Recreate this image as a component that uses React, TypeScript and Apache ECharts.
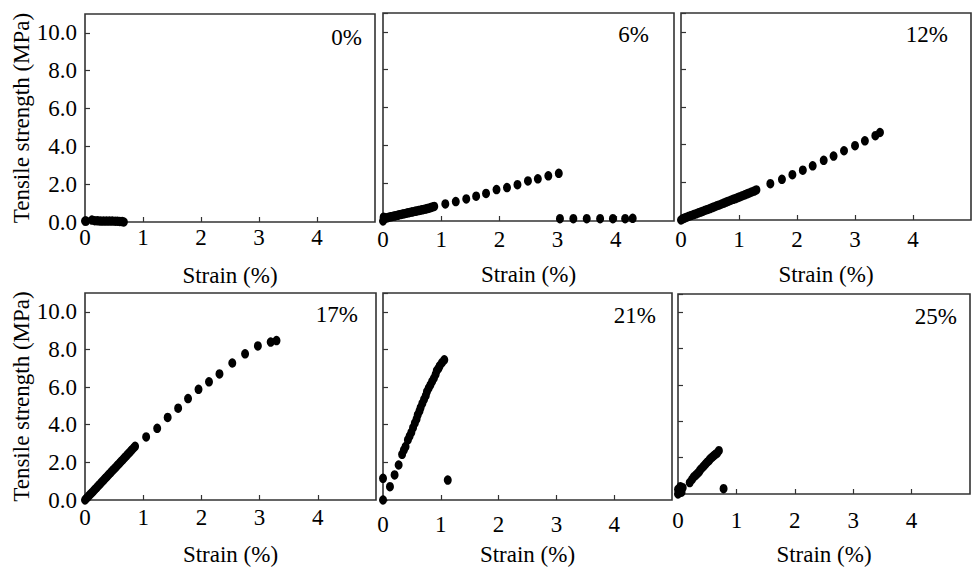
import React, { useEffect, useRef } from "react";
import * as echarts from "echarts";

const panelLabels = ["0%", "6%", "12%", "17%", "21%", "25%"];
const xTickValues = [0, 1, 2, 3, 4];
const yTickValues = [0, 2, 4, 6, 8, 10];
const xAxisTitle = "Strain (%)";
const yAxisTitle = "Tensile strength (MPa)";

// 0%
const strain0 = [0, 0.02, 0.12, 0.17, 0.22, 0.27, 0.32, 0.37, 0.42, 0.47, 0.52, 0.56, 0.6, 0.64, 0.67];
const stress0 = [0.05, 0.05, 0.1, 0.07, 0.06, 0.05, 0.05, 0.05, 0.05, 0.05, 0.04, 0.04, 0.03, 0.02, 0.0];

// 6%
const strain6 = [
  0, 0.01, 0.02, 0.04, 0.07, 0.1, 0.13, 0.16, 0.19, 0.22, 0.25, 0.28, 0.31, 0.34, 0.37, 0.4, 0.43, 0.46,
  0.49, 0.52, 0.55, 0.58, 0.61, 0.64, 0.67, 0.7, 0.73, 0.76, 0.79, 0.82, 0.85, 0.88,
  1.07, 1.25, 1.43, 1.6, 1.77, 1.95, 2.13, 2.31, 2.49, 2.66, 2.84, 3.02,
  3.04, 3.27, 3.5, 3.73, 3.95, 4.16, 4.29,
];
const stress6 = [
  0.0, 0.2, 0.12, 0.15, 0.17, 0.2, 0.22, 0.24, 0.26, 0.28, 0.3, 0.33, 0.35, 0.37, 0.39, 0.41, 0.43, 0.45,
  0.47, 0.49, 0.51, 0.53, 0.55, 0.57, 0.59, 0.61, 0.63, 0.66, 0.68, 0.71, 0.74, 0.77,
  0.9, 1.03, 1.17, 1.31, 1.46, 1.66, 1.77, 1.92, 2.12, 2.23, 2.39, 2.52,
  0.12, 0.12, 0.12, 0.12, 0.12, 0.12, 0.14,
];

// 12%
const strain12 = [
  0, 0.03, 0.06, 0.1, 0.14, 0.18, 0.22, 0.26, 0.3, 0.34, 0.38, 0.42, 0.46, 0.5, 0.54, 0.58, 0.62, 0.66,
  0.7, 0.74, 0.78, 0.82, 0.86, 0.9, 0.94, 0.98, 1.02, 1.06, 1.1, 1.14, 1.18, 1.22, 1.26, 1.3,
  1.54, 1.74, 1.92, 2.1, 2.27, 2.46, 2.63, 2.81, 3.0, 3.17, 3.35, 3.43,
];
const stress12 = [
  0, 0.06, 0.1, 0.15, 0.2, 0.24, 0.29, 0.33, 0.38, 0.42, 0.47, 0.52, 0.56, 0.61, 0.66, 0.71, 0.76, 0.8,
  0.85, 0.9, 0.95, 1.0, 1.05, 1.1, 1.14, 1.19, 1.24, 1.29, 1.34, 1.39, 1.44, 1.49, 1.54, 1.6,
  1.93, 2.16, 2.41, 2.65, 2.88, 3.17, 3.4, 3.68, 3.95, 4.21, 4.48, 4.65,
];

// 17%
const strain17 = [
  0, 0.02, 0.05, 0.08, 0.11, 0.14, 0.17, 0.2, 0.23, 0.26, 0.29, 0.32, 0.35, 0.38, 0.41, 0.44, 0.47, 0.5,
  0.53, 0.56, 0.59, 0.62, 0.65, 0.68, 0.71, 0.74, 0.77, 0.8, 0.83, 0.86,
  1.05, 1.24, 1.42, 1.6, 1.77, 1.95, 2.13, 2.31, 2.53, 2.75, 2.97, 3.19, 3.29,
];
const stress17 = [
  0, 0.08, 0.17, 0.27, 0.36, 0.46, 0.56, 0.66, 0.76, 0.86, 0.96, 1.06, 1.16, 1.26, 1.36, 1.46, 1.56, 1.65,
  1.75, 1.85, 1.95, 2.05, 2.15, 2.25, 2.35, 2.45, 2.55, 2.65, 2.75, 2.85,
  3.35, 3.81, 4.39, 4.88, 5.39, 5.88, 6.28, 6.7, 7.28, 7.77, 8.19, 8.39, 8.47,
];

// 21%
const strain21 = [
  0, 0, 0.12, 0.2, 0.27, 0.33, 0.36, 0.39, 0.43, 0.46, 0.49, 0.52, 0.55, 0.58, 0.6, 0.63, 0.65, 0.68,
  0.71, 0.74, 0.76, 0.79, 0.82, 0.85, 0.88, 0.91, 0.93, 0.96, 0.98, 1.02, 1.06, 1.12,
];
const stress21 = [
  0, 1.15, 0.71, 1.33, 1.86, 2.43, 2.65, 2.84, 3.19, 3.4, 3.6, 3.85, 4.08, 4.3, 4.52, 4.72, 4.91, 5.13,
  5.35, 5.55, 5.76, 5.95, 6.12, 6.3, 6.47, 6.68, 6.88, 7.0, 7.13, 7.3, 7.45, 1.06,
];

// 25%
const strain25 = [
  0, 0.0, 0.04, 0.08, 0.06, 0.2, 0.24, 0.27, 0.3, 0.33, 0.36, 0.38, 0.41, 0.44, 0.47, 0.5, 0.53, 0.55,
  0.58, 0.61, 0.64, 0.67, 0.7, 0.78,
];
const stress25 = [
  0, 0.25, 0.4, 0.35, 0.1, 0.63, 0.8, 0.94, 1.03, 1.12, 1.22, 1.33, 1.43, 1.53, 1.64, 1.75, 1.84, 1.93,
  2.02, 2.1, 2.18, 2.25, 2.38, 0.29,
];

const strainSets = [strain0, strain6, strain12, strain17, strain21, strain25];
const stressSets = [stress0, stress6, stress12, stress17, stress21, stress25];

// layout (pixels)
const grids = [
  { left: 85, top: 14, width: 290, height: 208 },
  { left: 383, top: 13, width: 291, height: 208 },
  { left: 681, top: 13, width: 290, height: 207 },
  { left: 85, top: 293, width: 291, height: 208 },
  { left: 383, top: 293, width: 289, height: 207 },
  { left: 678, top: 294, width: 292, height: 204 },
];
const xLabelMargins = [4, 7, 8, 6, 13, 15];
const xNameGaps = [42, 42, 43, 43, 43, 49];
const labelPos = [
  { x: 362, y: 37 },
  { x: 649, y: 34 },
  { x: 948, y: 34 },
  { x: 358, y: 314 },
  { x: 656, y: 315 },
  { x: 957, y: 316 },
];

const FONT = "Liberation Serif";
const TEXT = "#000";
const LINE = "#333";

export default function App() {
  const ref = useRef<HTMLDivElement>(null);
  useEffect(() => {
    if (!ref.current) return;
    const chart = echarts.init(ref.current, undefined, { renderer: "svg" });
    const option: any = {
      animation: false,
      backgroundColor: "#fff",
      textStyle: { fontFamily: FONT },
      grid: grids.map((g) => ({
        ...g,
        show: true,
        borderColor: LINE,
        borderWidth: 1.6,
        backgroundColor: "transparent",
        containLabel: false,
      })),
      xAxis: grids.map((_, i) => ({
        type: "value",
        gridIndex: i,
        min: 0,
        max: 5,
        interval: 1,
        name: xAxisTitle,
        nameLocation: "middle",
        nameGap: xNameGaps[i],
        nameTextStyle: { fontFamily: FONT, fontSize: 23, color: TEXT },
        axisLine: { show: false },
        axisTick: { show: true, inside: true, length: 5, lineStyle: { color: LINE, width: 1.2 } },
        splitLine: { show: false },
        axisLabel: {
          show: true,
          showMaxLabel: false,
          margin: xLabelMargins[i],
          fontFamily: FONT,
          fontSize: 23,
          color: TEXT,
          formatter: (v: number) => (xTickValues.includes(v) ? String(v) : ""),
        },
      })),
      yAxis: grids.map((_, i) => ({
        type: "value",
        gridIndex: i,
        min: 0,
        max: 11,
        interval: 2,
        name: i % 3 === 0 ? yAxisTitle : "",
        nameLocation: "middle",
        nameGap: 49,
        nameTextStyle: { fontFamily: FONT, fontSize: 23, color: TEXT },
        axisLine: { show: false },
        axisTick: { show: true, inside: true, length: 5, lineStyle: { color: LINE, width: 1.2 } },
        splitLine: { show: false },
        axisLabel: {
          show: i % 3 === 0,
          showMaxLabel: false,
          margin: 8,
          fontFamily: FONT,
          fontSize: 23,
          color: TEXT,
          formatter: (v: number) => (yTickValues.includes(v) ? v.toFixed(1) : ""),
        },
      })),
      series: strainSets.map((xs, i) => ({
        type: "scatter",
        xAxisIndex: i,
        yAxisIndex: i,
        symbol: "circle",
        symbolSize: [8, 9.5],
        itemStyle: { color: "#000", opacity: 1 },
        data: xs.map((x, j) => [x, stressSets[i][j]]),
        silent: true,
      })),
      graphic: panelLabels.map((t, i) => ({
        type: "text",
        x: labelPos[i].x,
        y: labelPos[i].y,
        style: {
          text: t,
          fontFamily: FONT,
          fontSize: 23,
          fill: TEXT,
          align: "right",
          verticalAlign: "middle",
        },
      })),
    };
    chart.setOption(option);
    return () => chart.dispose();
  }, []);
  return (
    <div
      ref={ref}
      style={{ position: "fixed", left: 0, top: 0, width: 973, height: 567 }}
    />
  );
}
